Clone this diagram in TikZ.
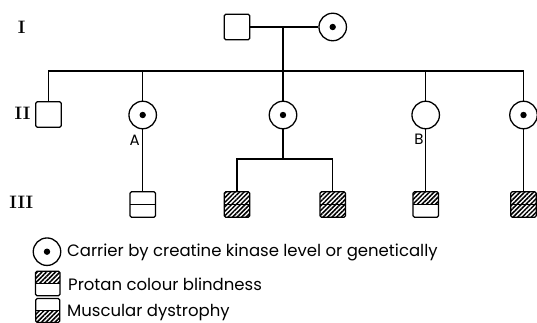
\documentclass[tikz,border=0pt]{standalone}
\usepackage{fontspec}
\newfontfamily\legfont{Poppins}
\usetikzlibrary{patterns.meta}
\tikzset{
  lw/.style={line width=1.3pt},
  hatchpat/.style={pattern={Lines[angle=45,distance=3.2pt,line width=1.5pt]}},
  male/.style={draw, lw, rectangle, minimum size=25.5pt, inner sep=0pt, rounded corners=1.5pt},
  female/.style={draw, lw, circle, minimum size=27.5pt, inner sep=0pt},
  carrier/.style={female, path picture={\fill (path picture bounding box.center) circle (3.2pt);}},
  divided/.style={male, path picture={\draw[lw] (path picture bounding box.west) -- (path picture bounding box.east);}},
  hatchtop/.style={male, path picture={\fill[hatchpat] (path picture bounding box.north west) rectangle (path picture bounding box.east);\draw[lw] (path picture bounding box.west) -- (path picture bounding box.east);}},
  hatchbot/.style={male, path picture={\fill[hatchpat] (path picture bounding box.south west) rectangle (path picture bounding box.east);\draw[lw] (path picture bounding box.west) -- (path picture bounding box.east);}},
  hatchboth/.style={male, path picture={\fill[hatchpat] (path picture bounding box.south west) rectangle (path picture bounding box.north east);\draw[lw] (path picture bounding box.west) -- (path picture bounding box.east);}},
  gen/.style={font=\fontsize{18}{18}\selectfont\bfseries, inner sep=0pt},
  lab/.style={font=\legfont\fontsize{15}{15}\selectfont, inner sep=0pt},
  legtext/.style={font=\legfont\fontsize{16.5}{16.5}\selectfont, inner sep=0pt, anchor=base west},
  conn/.style={lw}
}
\begin{document}
\begin{tikzpicture}[x=1pt,y=-1pt]
\useasboundingbox (0,0) rectangle (537,323);
% generation labels
\node[gen] (gI) at (21.7,27.5) {I};
\node[gen] (gII) at (22.5,113.5) {II};
\node[gen] (gIII) at (21.3,202.5) {III};
% generation I
\node[male] (f1) at (237,27) {};
\node[carrier] (m1) at (332.7,27) {};
% generation II
\node[male] (s1) at (48.5,114.5) {};
\node[carrier] (cA) at (142.7,115) {};
\node[carrier] (c3) at (283,115) {};
\node[female] (cB) at (425.7,115) {};
\node[carrier] (c5) at (523.5,115) {};
\node[lab] (lA) at (134.7,140) {A};
\node[lab] (lB) at (419,139.5) {B};
% generation III
\node[divided] (t1) at (142.7,204.5) {};
\node[hatchboth] (t2) at (237,204.5) {};
\node[hatchboth] (t3) at (332.8,204.5) {};
\node[hatchtop] (t4) at (425.7,204.5) {};
\node[hatchboth] (t5) at (523.5,204.5) {};
% connectors
\coordinate (mid1) at (283,27);
\coordinate (sib) at (0,71);
\coordinate (sib2) at (0,159);
\draw[conn] (f1.east) -- (m1.west);
\draw[conn] (mid1) -- (c3.north);
\draw[conn] (s1.north) -- (s1.north |- sib) -- (c5.north |- sib) -- (c5.north);
\draw[conn] (cA.north) -- (cA.north |- sib);
\draw[conn] (cB.north) -- (cB.north |- sib);
\draw[conn] (cA.south) -- (t1.north);
\draw[conn] (cB.south) -- (t4.north);
\draw[conn] (c5.south) -- (t5.north);
\draw[conn] (c3.south) -- (c3.south |- sib2);
\draw[conn] (t2.north) -- (t2.north |- sib2) -- (t3.north |- sib2) -- (t3.north);
% legend
\node[carrier] (k1) at (47,251.7) {};
\node[hatchtop, minimum size=24.5pt] (k2) at (47.8,283.5) {};
\node[hatchbot, minimum size=24pt] (k3) at (47.8,310.5) {};
\node[legtext] (k1t) at (67,256.7) {Carrier by creatine kinase level or genetically};
\node[legtext] (k2t) at (68,290) {Protan colour blindness};
\node[legtext] (k3t) at (67,316.7) {Muscular dystrophy};
\end{tikzpicture}
\end{document}
